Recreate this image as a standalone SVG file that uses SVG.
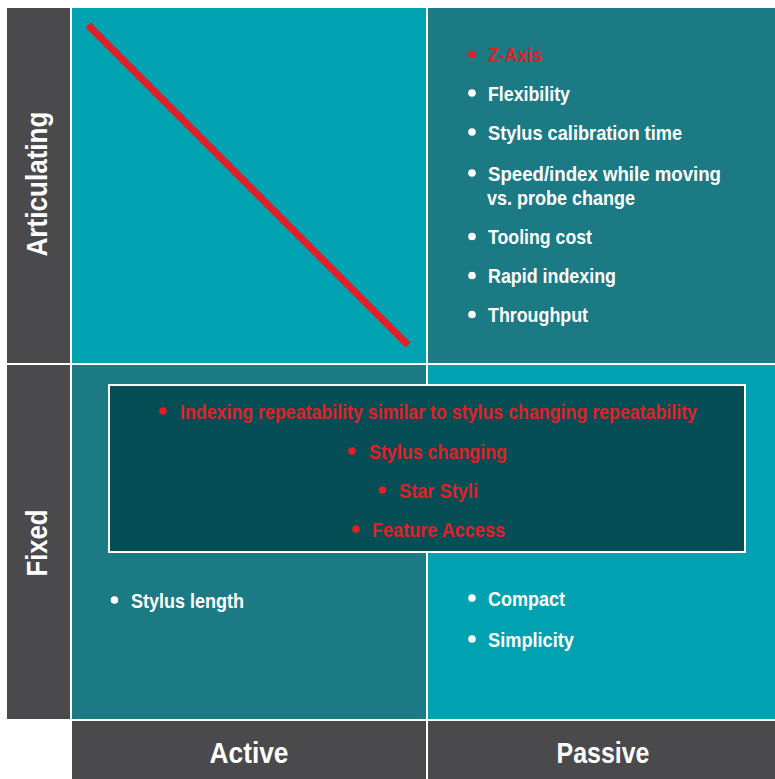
<svg xmlns="http://www.w3.org/2000/svg" width="775" height="779" viewBox="0 0 775 779">
<style>
.gray{fill:#4a4a4c}
.bright{fill:#00a1b1}
.dark{fill:#1c7a85}
.t{font-family:"Liberation Sans",Arial,sans-serif;font-weight:bold;font-size:21px;fill:#ffffff}
.r{fill:#e31e26}
.ax{font-family:"Liberation Sans",Arial,sans-serif;font-weight:bold;font-size:29px;fill:#ffffff}
.b{fill:#ffffff}
.br{fill:#e31e26}
</style>
<rect x="0" y="0" width="775" height="779" fill="#ffffff"/>
<g id="row-articulating">
<rect class="gray" x="7" y="8" width="63" height="355"/>
<text class="ax" transform="translate(47,184) rotate(-90)" text-anchor="middle" textLength="145" lengthAdjust="spacingAndGlyphs">Articulating</text>
</g>
<g id="row-fixed">
<rect class="gray" x="7" y="365" width="63" height="354"/>
<text class="ax" transform="translate(47,543) rotate(-90)" text-anchor="middle" textLength="67" lengthAdjust="spacingAndGlyphs">Fixed</text>
</g>
<g id="col-active">
<rect class="gray" x="72" y="721" width="354" height="58"/>
<text class="ax" x="249" y="763" text-anchor="middle" textLength="79" lengthAdjust="spacingAndGlyphs">Active</text>
</g>
<g id="col-passive">
<rect class="gray" x="428" y="721" width="347" height="58"/>
<text class="ax" x="603" y="763" text-anchor="middle" textLength="93" lengthAdjust="spacingAndGlyphs">Passive</text>
</g>
<g id="quad-articulating-active">
<rect class="bright" x="72" y="8" width="354" height="355"/>
</g>
<g id="quad-articulating-passive">
<rect class="dark" x="428" y="8" width="347" height="355"/>
<circle class="br" cx="472" cy="54.5" r="3.8"/>
<text class="t r" x="488" y="62" textLength="54" lengthAdjust="spacingAndGlyphs">Z-Axis</text>
<circle class="b" cx="472" cy="93" r="3.8"/>
<text class="t" x="488" y="101" textLength="82" lengthAdjust="spacingAndGlyphs">Flexibility</text>
<circle class="b" cx="472" cy="132" r="3.8"/>
<text class="t" x="488" y="140" textLength="194" lengthAdjust="spacingAndGlyphs">Stylus calibration time</text>
<circle class="b" cx="472" cy="173" r="3.8"/>
<text class="t" x="488" y="181" textLength="233" lengthAdjust="spacingAndGlyphs">Speed/index while moving</text>
<text class="t" x="487" y="205" textLength="148" lengthAdjust="spacingAndGlyphs">vs. probe change</text>
<circle class="b" cx="472" cy="236.5" r="3.8"/>
<text class="t" x="488" y="244" textLength="104" lengthAdjust="spacingAndGlyphs">Tooling cost</text>
<circle class="b" cx="472" cy="275.5" r="3.8"/>
<text class="t" x="488" y="283" textLength="128" lengthAdjust="spacingAndGlyphs">Rapid indexing</text>
<circle class="b" cx="472" cy="314.5" r="3.8"/>
<text class="t" x="488" y="322" textLength="100" lengthAdjust="spacingAndGlyphs">Throughput</text>
</g>
<g id="quad-fixed-active">
<rect class="dark" x="72" y="365" width="354" height="354"/>
<circle class="b" cx="114.5" cy="600" r="3.8"/>
<text class="t" x="131" y="608" textLength="113" lengthAdjust="spacingAndGlyphs">Stylus length</text>
</g>
<g id="quad-fixed-passive">
<rect class="bright" x="428" y="365" width="347" height="354"/>
<circle class="b" cx="472" cy="598" r="3.8"/>
<text class="t" x="488" y="606" textLength="77" lengthAdjust="spacingAndGlyphs">Compact</text>
<circle class="b" cx="472" cy="639" r="3.8"/>
<text class="t" x="488" y="647" textLength="86" lengthAdjust="spacingAndGlyphs">Simplicity</text>
</g>
<g id="shared-box">
<rect x="109" y="385" width="636" height="167" fill="#054e55" stroke="#ffffff" stroke-width="2"/>
<circle class="br" cx="163" cy="411" r="3.8"/>
<text class="t r" x="180" y="419" textLength="517" lengthAdjust="spacingAndGlyphs">Indexing repeatability similar to stylus changing repeatability</text>
<circle class="br" cx="352" cy="451" r="3.8"/>
<text class="t r" x="369" y="459" textLength="138" lengthAdjust="spacingAndGlyphs">Stylus changing</text>
<circle class="br" cx="382.5" cy="490" r="3.8"/>
<text class="t r" x="399" y="498" textLength="79" lengthAdjust="spacingAndGlyphs">Star Styli</text>
<circle class="br" cx="356" cy="529" r="3.8"/>
<text class="t r" x="372" y="537" textLength="133" lengthAdjust="spacingAndGlyphs">Feature Access</text>
</g>
<g id="strike">
<line x1="88" y1="25" x2="408" y2="345" stroke="#e31e26" stroke-width="7"/>
</g>
</svg>
